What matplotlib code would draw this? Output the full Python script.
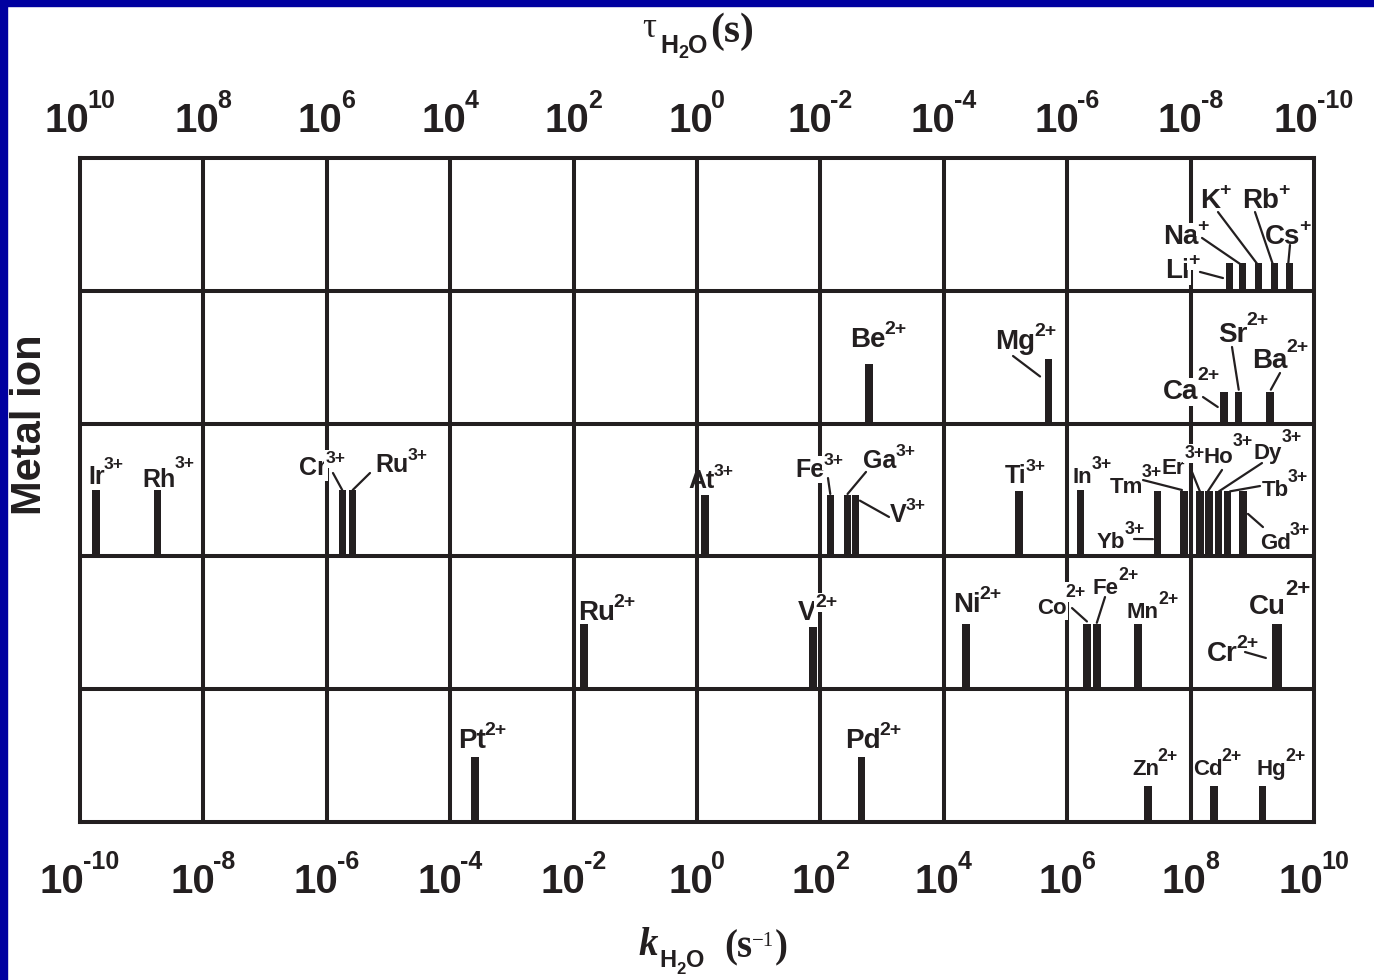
import matplotlib
matplotlib.use("Agg")
import matplotlib.pyplot as plt
from matplotlib.transforms import blended_transform_factory
from matplotlib.patches import Rectangle

# ---- data: water exchange rate constants (log10 k, s^-1) ----
symbols = ['Li', 'Na', 'K', 'Rb', 'Cs',
           'Be', 'Mg', 'Ca', 'Sr', 'Ba',
           'Ir', 'Rh', 'Cr', 'Ru', 'At', 'Fe', 'Ga', 'V', 'Ti', 'In',
           'Yb', 'Tm', 'Er', 'Ho', 'Dy', 'Tb', 'Gd',
           'Ru', 'V', 'Ni', 'Co', 'Fe', 'Mn', 'Cr', 'Cu',
           'Pt', 'Pd', 'Zn', 'Cd', 'Hg']
charges = ['+'] * 5 + ['2+'] * 5 + ['3+'] * 17 + ['2+'] * 8 + ['2+'] * 5
rows = [4] * 5 + [3] * 5 + [2] * 17 + [1] * 8 + [0] * 5
log_k = [8.63, 8.84, 9.10, 9.36, 9.60,
         2.79, 5.70, 8.54, 8.78, 9.29,
         -9.74, -8.74, -5.75, -5.58, 0.13, 2.16, 2.44, 2.57, 5.22, 6.22,
         7.46, 7.89, 8.15, 8.30, 8.45, 8.60, 8.85,
         -1.83, 1.88, 4.36, 6.32, 6.48, 7.15, 9.38, 9.42,
         -3.60, 2.67, 7.31, 8.38, 9.17]
bar_h = [0.21] * 5 + [0.45, 0.49, 0.24, 0.24, 0.24] + \
        [0.50, 0.50, 0.50, 0.50, 0.46, 0.46, 0.46, 0.46, 0.49, 0.50] + \
        [0.49] * 7 + [0.49] * 8 + [0.49, 0.49, 0.27, 0.27, 0.27]

k_exp = [-10, -8, -6, -4, -2, 0, 2, 4, 6, 8, 10]
tau_exp = [-e for e in k_exp]

# ---- label layout (left edge, baseline) in axis units ----
label_pos = {
    'Li+': (7.585, 4.096), 'Na+': (7.553, 4.352), 'K+': (8.152, 4.623),
    'Rb+': (8.833, 4.623), 'Cs+': (9.206, 4.352),
    'Be2+': (2.480, 3.577), 'Mg2+': (4.830, 3.562), 'Ca2+': (7.553, 3.185),
    'Sr2+': (8.444, 3.614), 'Ba2+': (8.995, 3.419),
    'Ir3+': (-9.870, 2.545), 'Rh3+': (-8.995, 2.523), 'Cr3+': (-6.451, 2.613),
    'Ru3+': (-5.219, 2.636), 'At3+': (-0.146, 2.515), 'Fe3+': (1.588, 2.598),
    'Ga3+': (2.690, 2.666), 'V3+': (3.128, 2.259), 'Ti3+': (4.992, 2.553),
    'In3+': (6.094, 2.553), 'Yb3+': (6.483, 2.063), 'Tm3+': (6.690, 2.477),
    'Er3+': (7.536, 2.620), 'Ho3+': (8.217, 2.703), 'Dy3+': (9.027, 2.733),
    'Tb3+': (9.157, 2.455), 'Gd3+': (9.125, 2.056),
    'Ru2+': (-1.929, 1.521), 'V2+': (1.637, 1.521), 'Ni2+': (4.149, 1.581),
    'Co2+': (5.511, 1.566), 'Fe2+': (6.418, 1.717), 'Mn2+': (6.969, 1.536),
    'Cr2+': (8.266, 1.212), 'Cu2+': (8.947, 1.566),
    'Pt2+': (-3.874, 0.557), 'Pd2+': (2.399, 0.557), 'Zn2+': (7.050, 0.354),
    'Cd2+': (8.039, 0.354), 'Hg2+': (9.076, 0.354),
}
mid_labels = {'Ir3+', 'Rh3+', 'Cr3+', 'Ru3+', 'At3+', 'Fe3+', 'Ga3+', 'V3+', 'Ti3+'}
small_labels = {'In3+', 'Tm3+', 'Yb3+', 'Er3+', 'Ho3+', 'Dy3+', 'Tb3+', 'Gd3+',
                'Co2+', 'Fe2+', 'Mn2+', 'Zn2+', 'Cd2+', 'Hg2+'}
# how high the charge sits (baseline rise as a fraction of the font size)
sup_rise = {'Ca2+': 0.68, 'Sr2+': 0.62, 'Ba2+': 0.58, 'Cu2+': 0.7, 'Rh3+': 0.75,
            'Ir3+': 0.62, 'Co2+': 0.78, 'Tm3+': 0.72, 'Er3+': 0.72, 'Ho3+': 0.75,
            'Dy3+': 0.75}
masked = {'Li+', 'Na+', 'Ca2+', 'Er3+', 'Fe3+', 'V2+', 'Co2+', 'Cr3+'}

# leader: tail point, offset of head from bar top
leaders = {
    'Li+': ((8.152, 4.142), (-0.105, -0.114)),
    'Na+': ((8.185, 4.398), (0.0, -0.02)),
    'K+': ((8.444, 4.593), (0.0, -0.02)),
    'Rb+': ((9.044, 4.593), (-0.02, -0.02)),
    'Cs+': ((9.611, 4.345), (-0.02, -0.02)),
    'Mg2+': ((5.122, 3.509), (-0.14, -0.135)),
    'Sr2+': ((8.671, 3.577), (0.0, 0.015)),
    'Ba2+': ((9.449, 3.381), (0.01, 0.015)),
    'Ca2+': ((8.201, 3.200), (-0.10, -0.115)),
    'Cr3+': ((-5.900, 2.628), (0.0, 0.0)),
    'Ru3+': ((-5.300, 2.628), (0.0, 0.0)),
    'Fe3+': ((2.123, 2.590), (0.0, 0.01)),
    'Ga3+': ((2.739, 2.636), (0.0, 0.01)),
    'V3+': ((3.112, 2.297), (0.07, -0.04)),
    'Tm3+': ((7.229, 2.575), (-0.03, 0.01)),
    'Er3+': ((7.990, 2.673), (0.0, 0.0)),
    'Ho3+': ((8.509, 2.651), (-0.02, 0.0)),
    'Dy3+': ((9.157, 2.703), (0.01, 0.0)),
    'Tb3+': ((9.125, 2.530), (0.04, 0.0)),
    'Gd3+': ((9.173, 2.221), (0.08, -0.17)),
    'Yb3+': ((7.083, 2.131), (-0.07, -0.36)),
    'Co2+': ((6.078, 1.611), (0.0, 0.02)),
    'Fe2+': ((6.613, 1.694), (0.0, 0.01)),
    'Cr2+': ((8.882, 1.280), (-0.16, -0.255)),
}

ink = '#231f20'
W, H = 1374, 980
SANS = 'Liberation Sans'
SERIF = 'Liberation Serif'

fig = plt.figure(figsize=(W / 100, H / 100), dpi=100)
ax = fig.add_axes([80 / W, 1 - 822 / H, 1234 / W, 664 / H])
ax.set_xlim(-10, 10)
ax.set_ylim(0, 5)
ax.set_xticks([])
ax.set_yticks([])
for sp in ax.spines.values():
    sp.set_linewidth(2.9)
    sp.set_color(ink)
    sp.set_zorder(10)

for x in k_exp[1:-1]:
    ax.axvline(x, color=ink, lw=2.9, zorder=1)
for y in range(1, 5):
    ax.axhline(y, color=ink, lw=2.9, zorder=1)

ax.bar(log_k, bar_h, bottom=rows, width=0.12, color=ink, zorder=3)


def with_sup(x, y, base_txt, sup_txt, size, sup_size, rise, transform, ycoords,
             bb=None, gap=-0.8):
    base = ax.text(x, y, base_txt, transform=transform, fontsize=size,
                   fontweight='bold', family=SANS, color=ink,
                   ha='left', va='baseline', zorder=4, bbox=bb)
    sup = ax.annotate(sup_txt, xy=(1, y), xycoords=(base, ycoords),
                      xytext=(gap, rise), textcoords='offset points',
                      fontsize=sup_size, fontweight='bold', family=SANS,
                      color=ink, ha='left', va='baseline', zorder=4, bbox=bb)
    return base, sup


for sym, ch, r, lk, h in zip(symbols, charges, rows, log_k, bar_h):
    key = sym + ch
    x, y = label_pos[key]
    small = key in small_labels
    size = 16 if small else (18 if key in mid_labels else 20)
    rise = sup_rise.get(key, 0.62 if small else 0.47) * size
    sup_size = size * (0.8 if small or key == 'Cu2+' else 0.7)
    bb = dict(fc='white', ec='none', pad=1) if key in masked else None
    with_sup(x, y, sym, ch, size, sup_size, rise, ax.transData, 'data', bb)
    if key in leaders:
        tail, (dx, dy) = leaders[key]
        ax.annotate('', xy=(lk + dx, r + h + dy), xytext=tail,
                    arrowprops=dict(arrowstyle='-', lw=1.6, color=ink,
                                    shrinkA=0, shrinkB=0), zorder=5)

# tick labels: k along bottom, tau along top (each centred on its gridline)
tr = blended_transform_factory(ax.transData, fig.transFigure)
renderer = fig.canvas.get_renderer()
px_to_data = 20 / 1234
for x, ke, te in zip(k_exp, k_exp, tau_exp):
    for yb, e in ((1 - 893 / H, ke), (1 - 132 / H, te)):
        base, sup = with_sup(x, yb, '10', str(e), 29, 18, 17, tr, 'figure fraction',
                             gap=-1.2)
        wb = base.get_window_extent(renderer).width
        ws = sup.get_window_extent(renderer).width
        base.set_x(x - (wb + ws - 1) / 2 * px_to_data)


def chain(x_px, pieces):
    # pieces: (text, baseline_px, gap_px, family, size, weight, style)
    prev = None
    for txt, base_px, gap, fam, size, weight, style in pieces:
        yf = 1 - base_px / H
        kw = dict(fontsize=size, family=fam, fontweight=weight, fontstyle=style,
                  color=ink, ha='left', va='baseline')
        if prev is None:
            prev = fig.text(x_px / W, yf, txt, **kw)
        else:
            prev = ax.annotate(txt, xy=(1, yf), xycoords=(prev, 'figure fraction'),
                               xytext=(gap * 0.72, 0), textcoords='offset points',
                               annotation_clip=False, **kw)


chain(642, [('τ', 37, 0, SERIF, 25, 'normal', 'normal'),
            ('H', 53, 4, SANS, 18, 'bold', 'normal'),
            ('2', 58, 0, SANS, 13, 'bold', 'normal'),
            ('O', 53, 0, SANS, 18, 'bold', 'normal'),
            ('(s)', 42, 3, SERIF, 30, 'bold', 'normal')])
chain(638, [('k', 955, 0, SERIF, 28, 'bold', 'italic'),
            ('H', 967, 2, SANS, 17, 'bold', 'normal'),
            ('2', 974, 0, SANS, 12, 'bold', 'normal'),
            ('O', 967, 0, SANS, 17, 'bold', 'normal'),
            ('(s', 957, 20, SERIF, 28, 'bold', 'normal'),
            ('\u22121', 946, 0, SERIF, 15, 'normal', 'normal'),
            (')', 957, 0, SERIF, 28, 'bold', 'normal')])

fig.text(30 / W, 1 - 425 / H, 'Metal ion', rotation=90, fontsize=30,
         fontweight='bold', family=SANS, color=ink, ha='center', va='center')

# blue frame on the left and top edges
fig.patches.append(Rectangle((0, 0), 7 / W, 1, transform=fig.transFigure,
                             color='#0000a0', zorder=20))
fig.patches.append(Rectangle((0, 1 - 6 / H), 1, 6 / H, transform=fig.transFigure,
                             color='#0000a0', zorder=20))

fig.savefig('out.png', dpi=100)
